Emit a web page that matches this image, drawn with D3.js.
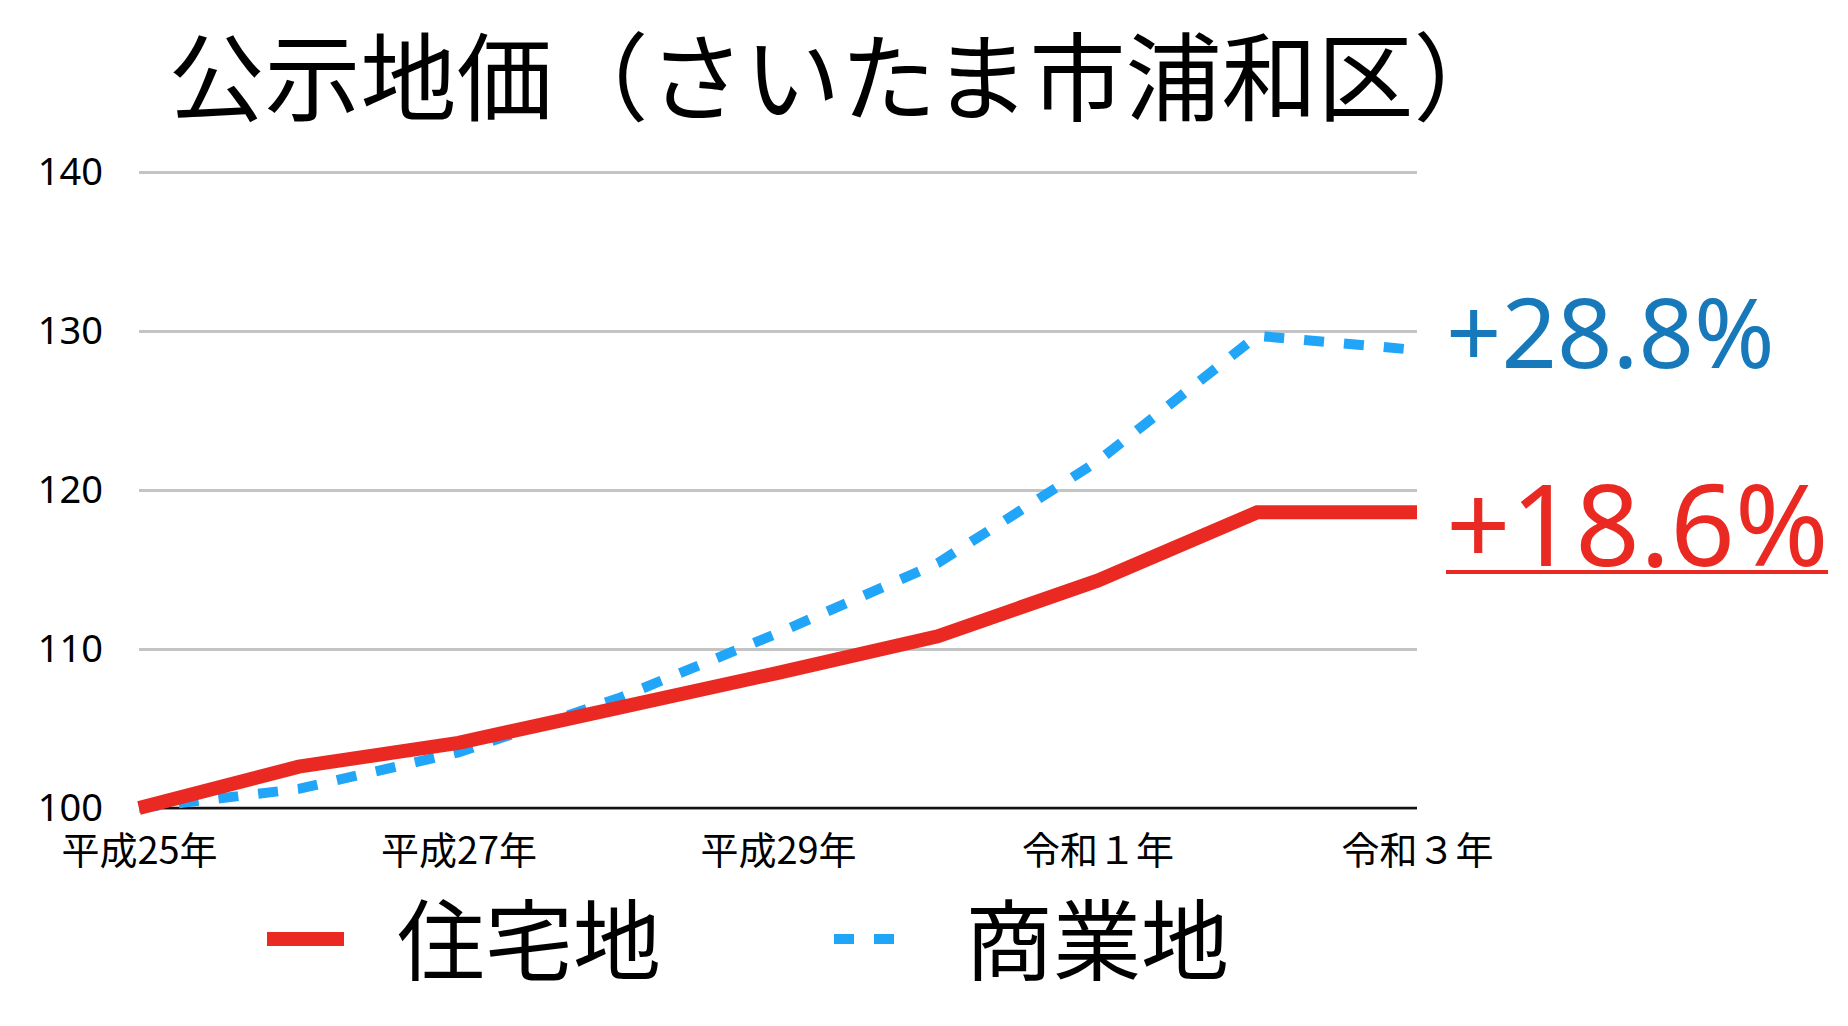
<!DOCTYPE html>
<html lang="ja">
<head>
<meta charset="UTF-8">
<title>公示地価（さいたま市浦和区）</title>
<script src="https://cdnjs.cloudflare.com/ajax/libs/d3/7.8.5/d3.min.js"></script>
<style>
  body { margin: 0; background: #fff; }
  svg { display: block; }
</style>
<script>
// 年次（X軸）
var years = ["平成25年", "平成26年", "平成27年", "平成28年", "平成29年", "平成30年", "令和１年", "令和２年", "令和３年"];
// 平成25年=100 とした指数
var residential = [100, 102.6, 104.1, 106.3, 108.5, 110.8, 114.3, 118.6, 118.6];
var commercial = [100, 101.2, 103.5, 106.9, 111.0, 115.4, 121.8, 129.7, 128.8];
var yTicks = [100, 110, 120, 130, 140];
var seriesNames = ["住宅地", "商業地"];
var changeLabels = ["+18.6%", "+28.8%"];

function draw() {
  var svg = d3.select("#chart");
  var left = 139, right = 1417, top = 172, bottom = 808;

  var x = d3.scalePoint().domain(years).range([left, right]);
  var y = d3.scaleLinear().domain([100, 140]).range([bottom, top]);

  // title
  svg.append("text")
    .attr("x", 839).attr("y", 113)
    .attr("text-anchor", "middle")
    .attr("font-family", "'Noto Sans CJK JP'")
    .attr("font-size", 96)
    .attr("fill", "#000")
    .text("公示地価（さいたま市浦和区）");

  // grid + y labels
  var yAxis = svg.append("g")
    .attr("transform", "translate(" + left + ",0)")
    .call(d3.axisLeft(y).tickValues(yTicks).tickSize(-(right - left)).tickPadding(36).tickFormat(d3.format("d")));
  yAxis.select(".domain").remove();
  yAxis.selectAll(".tick line").attr("stroke", "#c4c4c4").attr("stroke-width", 3);
  yAxis.selectAll(".tick text")
    .attr("font-family", "'Noto Sans'")
    .attr("font-size", 38)
    .attr("fill", "#000");

  // baseline
  svg.append("line")
    .attr("x1", left).attr("x2", right)
    .attr("y1", y(100)).attr("y2", y(100))
    .attr("stroke", "#111").attr("stroke-width", 2.5);

  // x labels
  var xAxis = svg.append("g")
    .attr("transform", "translate(0," + bottom + ")")
    .call(d3.axisBottom(x).tickValues(years.filter((d, i) => i % 2 === 0)).tickSize(0));
  xAxis.select(".domain").remove();
  xAxis.selectAll(".tick text")
    .attr("dy", null)
    .attr("y", 56)
    .attr("font-family", "'Noto Sans CJK JP'")
    .attr("font-size", 38)
    .attr("fill", "#000");

  var line = d3.line()
    .x((d, i) => x(years[i]))
    .y(d => y(d));

  svg.append("path")
    .attr("fill", "none")
    .attr("stroke", "#20a5f8")
    .attr("stroke-width", 10)
    .attr("stroke-dasharray", "20,20")
    .attr("d", line(commercial));

  svg.append("path")
    .attr("fill", "none")
    .attr("stroke", "#ea2a22")
    .attr("stroke-width", 14)
    .attr("d", line(residential));

  // change labels at right end
  svg.append("text")
    .attr("x", 1446).attr("y", 368)
    .attr("font-family", "'Noto Sans'")
    .attr("font-size", 97)
    .attr("fill", "#1779ba")
    .text(changeLabels[1]);

  svg.append("text")
    .attr("x", 1446).attr("y", 566)
    .attr("font-family", "'Noto Sans'")
    .attr("font-size", 113)
    .attr("fill", "#ea2a22")
    .text(changeLabels[0]);
  svg.append("line")
    .attr("x1", 1446).attr("x2", 1828)
    .attr("y1", 572).attr("y2", 572)
    .attr("stroke", "#ea2a22").attr("stroke-width", 4);

  // legend
  var lg = svg.append("g");
  lg.append("line")
    .attr("x1", 267).attr("x2", 344).attr("y1", 939).attr("y2", 939)
    .attr("stroke", "#ea2a22").attr("stroke-width", 14);
  lg.append("text")
    .attr("x", 397).attr("y", 973)
    .attr("font-family", "'Noto Sans CJK JP'")
    .attr("font-size", 88)
    .text(seriesNames[0]);
  lg.append("line")
    .attr("x1", 834).attr("x2", 895).attr("y1", 939).attr("y2", 939)
    .attr("stroke", "#20a5f8").attr("stroke-width", 10)
    .attr("stroke-dasharray", "20,20");
  lg.append("text")
    .attr("x", 965).attr("y", 973)
    .attr("font-family", "'Noto Sans CJK JP'")
    .attr("font-size", 88)
    .text(seriesNames[1]);
}
</script>
</head>
<body onload="draw()">
<svg id="chart" width="1848" height="1026"></svg>
</body>
</html>
